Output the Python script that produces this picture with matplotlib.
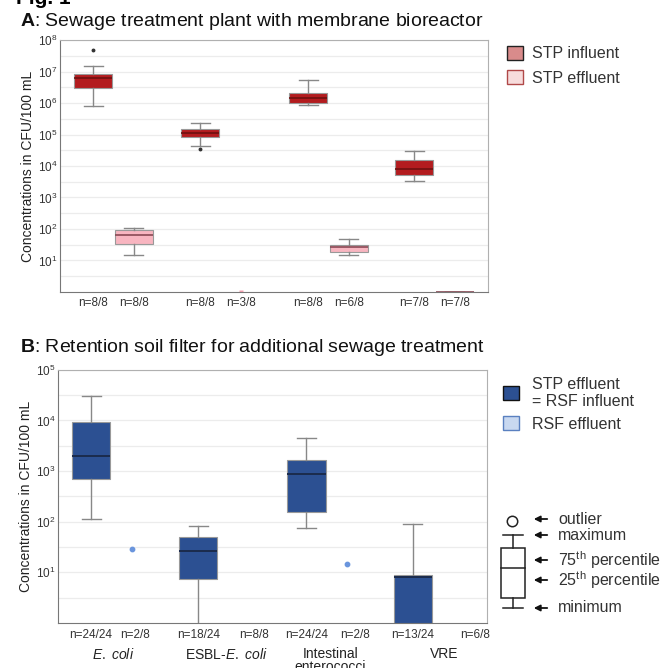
import numpy as np
import matplotlib
matplotlib.use("Agg")
import matplotlib.pyplot as plt
from matplotlib.patches import Patch, Rectangle
from matplotlib.ticker import FixedLocator, LogFormatterSciNotation, NullFormatter

plt.rcParams["font.family"] = ["Liberation Sans", "DejaVu Sans"]
plt.rcParams["mathtext.fontset"] = "custom"
plt.rcParams["mathtext.rm"] = "Liberation Sans"
plt.rcParams["mathtext.it"] = "Liberation Sans:italic"
plt.rcParams["mathtext.bf"] = "Liberation Sans:bold"

# ── data (CFU/100 mL), order: E. coli, ESBL-E. coli, enterococci, VRE ──
# box stats: (whislo, q1, med, q3, whishi)
stp_influent = [
    (8.0e5, 3.0e6, 6.3e6, 8.3e6, 1.5e7),
    (4.4e4, 8.3e4, 1.1e5, 1.45e5, 2.3e5),
    (8.9e5, 1.04e6, 1.42e6, 2.06e6, 5.3e6),
    (3.3e3, 5.2e3, 8.1e3, 1.5e4, 2.9e4),
]
stp_influent_fliers = [[5.0e7], [3.4e4], [], []]
stp_effluent = [
    (15, 34, 62, 95, 110),
    (0.5, 0.5, 0.5, 0.5, 0.5),
    (15, 18, 26, 30, 47),
    (1.01, 1.01, 1.01, 1.01, 1.01),
]
stp_effluent_fliers = [[], [1.03], [], []]
n_a = ["n=8/8", "n=8/8", "n=8/8", "n=3/8", "n=8/8", "n=6/8", "n=7/8", "n=7/8"]

rsf_influent = [
    (115, 690, 1950, 9500, 3.1e4),
    (0.8, 7.4, 27, 51, 81),
    (76, 155, 870, 1670, 4500),
    (0.3, 0.5, 8.0, 8.7, 90),
]
rsf_effluent_points = [29, None, 14.6, None]
n_b = ["n=24/24", "n=2/8", "n=18/24", "n=8/8", "n=24/24", "n=2/8", "n=13/24", "n=6/8"]
categories = [r"$\it{E.\ coli}$", r"ESBL-$\it{E.\ coli}$", "Intestinal\nenterococci", "VRE"]

# ── layout ──
group_x = np.array([0.825, 3.5, 6.2, 8.85])
pair_dx = 1.02
label_dx_b = [1.1, 1.4, 1.2, 1.55]

RED, PINK = "#b31c1f", "#f8b5c0"
BLUE, LIGHTBLUE = "#2c5092", "#6a95dd"
GRID = "#ececec"


def stats(vals, fliers=()):
    lo, q1, med, q3, hi = vals
    return dict(whislo=lo, q1=q1, med=med, q3=q3, whishi=hi, fliers=list(fliers))


def style_axis(ax, top_exp):
    ax.set_yscale("log")
    ax.set_ylim(1, 10 ** top_exp)
    ax.set_xlim(0, 10.7)
    ax.yaxis.set_major_locator(FixedLocator([10.0 ** k for k in range(1, top_exp + 1)]))
    ax.yaxis.set_major_formatter(LogFormatterSciNotation())
    ax.yaxis.set_minor_locator(FixedLocator([10 ** (k + 0.5) for k in range(top_exp)]))
    ax.yaxis.set_minor_formatter(NullFormatter())
    ax.grid(True, which="both", axis="y", color=GRID, lw=0.9)
    ax.set_axisbelow(True)
    ax.tick_params(axis="y", which="both", length=0, labelsize=8.5, colors="#333333", pad=2)
    ax.tick_params(axis="x", length=0, labelsize=8.5, colors="#333333", pad=4)
    for s in ax.spines.values():
        s.set_color("#b0b0b0")
    ax.spines["left"].set_color("#777777")
    ax.spines["bottom"].set_color("#777777")
    ax.set_ylabel("Concentrations in CFU/100 mL", fontsize=10, color="#222222", labelpad=2)


fig = plt.figure(figsize=(6.69, 6.68), dpi=100)

# ── panel A ──
axA = fig.add_axes([0.0897, 0.563, 0.640, 0.377])
style_axis(axA, 8)
box_kw = dict(widths=0.95, patch_artist=True, showfliers=True,
              whiskerprops=dict(color="#888888", lw=1),
              capprops=dict(color="#888888", lw=1),
              flierprops=dict(marker="o", markersize=1.8, markerfacecolor="#333333",
                              markeredgecolor="#333333"))
axA.bxp([stats(v, f) for v, f in zip(stp_influent, stp_influent_fliers)],
        positions=group_x, boxprops=dict(facecolor=RED, edgecolor="#999999", lw=0.8),
        medianprops=dict(color="#6e1010", lw=1.2), **box_kw)
eff_kw = dict(box_kw, flierprops=dict(marker="s", markersize=2.5, markerfacecolor="#f4a0b0",
                                      markeredgecolor="none"))
axA.bxp([stats(v, f) for v, f in zip(stp_effluent, stp_effluent_fliers)],
        positions=group_x + pair_dx,
        boxprops=dict(facecolor=PINK, edgecolor="#999999", lw=0.8),
        medianprops=dict(color="#8a4a55", lw=1.2), **eff_kw)
xa = np.ravel(np.column_stack([group_x, group_x + pair_dx]))
axA.set_xticks(xa)
axA.set_xticklabels(n_a)
axA.legend(handles=[Patch(facecolor="#d98b8b", edgecolor="#222222", label="STP influent"),
                    Patch(facecolor="#f7dcdc", edgecolor="#b04848", label="STP effluent")],
           loc="upper left", bbox_to_anchor=(1.01, 1.035), frameon=False, fontsize=11.5,
           handlelength=1.0, handleheight=1.0, handletextpad=0.6, labelspacing=0.55,
           labelcolor="#333333")

# ── panel B ──
axB = fig.add_axes([0.0867, 0.0674, 0.641, 0.379])
style_axis(axB, 5)
axB.bxp([stats(v) for v in rsf_influent], positions=group_x,
        boxprops=dict(facecolor=BLUE, edgecolor="#999999", lw=0.8),
        medianprops=dict(color="#1b2b4d", lw=1.4), **box_kw)
for gx, p in zip(group_x, rsf_effluent_points):
    if p is not None:
        axB.scatter([gx + pair_dx], [p], s=10, color=LIGHTBLUE, zorder=3)
xb = np.ravel(np.column_stack([group_x, group_x + np.array(label_dx_b)]))
axB.set_xticks(xb)
axB.set_xticklabels(n_b)
for gx, dx, cat in zip(group_x, label_dx_b, categories):
    axB.text(gx + dx / 2, -0.095, cat, transform=axB.get_xaxis_transform(),
             ha="center", va="top", fontsize=10, color="#222222", linespacing=0.95)
axB.legend(handles=[Patch(facecolor=BLUE, edgecolor="#111111", label="STP effluent\n= RSF influent"),
                    Patch(facecolor="#c8d8f0", edgecolor="#5a80c0", label="RSF effluent")],
           loc="upper left", bbox_to_anchor=(1.005, 1.03), frameon=False, fontsize=11.5,
           handlelength=1.0, handleheight=1.0, handletextpad=0.8, labelspacing=0.45,
           labelcolor="#333333")

# ── titles ──
fig.text(20 / 669, 1 - 21 / 668, r"$\bf{A}$: Sewage treatment plant with membrane bioreactor",
         fontsize=14, va="center", ha="left", color="#111111")
fig.text(20 / 669, 1 - 347 / 668, r"$\bf{B}$: Retention soil filter for additional sewage treatment",
         fontsize=14, va="center", ha="left", color="#111111")
fig.text(16 / 669, 1 + 1 / 668, "Fig. 1", fontsize=15, fontweight="bold", va="center", ha="left")

# ── box-plot key (pixel coordinates) ──
key = fig.add_axes([0, 0, 1, 1])
key.set_xlim(0, 669)
key.set_ylim(668, 0)
key.axis("off")
key.plot([512], [521], "o", ms=7.5, mfc="white", mec="#222222", mew=1.1)
key.plot([513, 513], [535, 548], color="#222222", lw=1.1)
key.plot([503, 523], [535, 535], color="#222222", lw=1.1)
key.add_patch(Rectangle((501, 548), 24, 50, fc="white", ec="#222222", lw=1.1))
key.plot([501, 525], [568, 568], color="#222222", lw=1.1)
key.plot([513, 513], [598, 608], color="#222222", lw=1.1)
key.plot([503, 523], [608, 608], color="#222222", lw=1.1)
for y, txt in [(519, "outlier"), (535, "maximum"), (560, r"75$^{\rm th}$ percentile"),
               (580, r"25$^{\rm th}$ percentile"), (608, "minimum")]:
    key.annotate("", xy=(531, y), xytext=(550, y),
                 arrowprops=dict(arrowstyle="-|>", color="#111111", lw=1.3, mutation_scale=9))
    key.text(558, y, txt, fontsize=11.5, va="center", ha="left", color="#333333")

plt.savefig("out.png", dpi=100)
